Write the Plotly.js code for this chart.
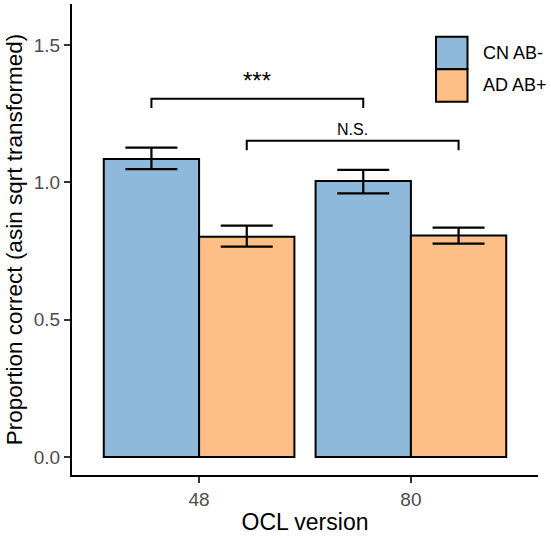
<!DOCTYPE html>
<html>
<head>
<meta charset="utf-8">
<script src="https://cdn.plot.ly/plotly-3.0.1.min.js"></script>
<style>html,body{margin:0;padding:0;background:#fff;}#chart{width:551px;height:538px;}</style>
</head>
<body>
<div id="chart"></div>
<script>
// ---- data ----
var versions = ["48", "80"];
var groups = ["CN AB-", "AD AB+"];
var colors = ["#8FB9DA", "#FDBF86"];
var cnMean = [1.085, 1.005];
var cnUpper = [1.126, 1.045];
var cnLower = [1.048, 0.960];
var adMean = [0.802, 0.806];
var adUpper = [0.842, 0.835];
var adLower = [0.766, 0.777];
var yTicks = [0, 0.5, 1.0, 1.5];
var yTickText = ["0.0", "0.5", "1.0", "1.5"];
// comparisons between the two versions within one group
var compGroup = [0, 1];
var compY = [1.304, 1.151];
var compLabel = ["***", "N.S."];

var means = [cnMean, adMean];
var uppers = [cnUpper, adUpper];
var lowers = [cnLower, adLower];

var FONT = "Liberation Sans, Arial, sans-serif";
var traces = groups.map(function (g, i) {
  return {
    type: "bar",
    name: g,
    x: versions,
    y: means[i],
    marker: { color: colors[i], line: { color: "#000", width: 2 } },
    error_y: {
      type: "data",
      symmetric: false,
      array: uppers[i].map(function (u, k) { return u - means[i][k]; }),
      arrayminus: means[i].map(function (m, k) { return m - lowers[i][k]; }),
      color: "#000",
      thickness: 2.2,
      width: 26
    },
    showlegend: false,
    hoverinfo: "skip"
  };
});

var shapes = [];
var annotations = [];
var groupWidth = 0.9;
var barW = groupWidth / groups.length;
function barCenter(versionIdx, groupIdx) {
  return versionIdx + (groupIdx - (groups.length - 1) / 2) * barW;
}
var tip = 0.034;
compGroup.forEach(function (gi, c) {
  var x0 = barCenter(0, gi), x1 = barCenter(1, gi), y = compY[c];
  shapes.push({
    type: "path", xref: "x", yref: "y",
    path: "M" + x0 + "," + (y - tip) + " L" + x0 + "," + y + " L" + x1 + "," + y + " L" + x1 + "," + (y - tip),
    line: { color: "#000", width: 2 }
  });
  annotations.push({
    xref: "x", yref: "y", x: (x0 + x1) / 2, y: y,
    yanchor: "bottom", yshift: c === 0 ? 3 : 1,
    text: compLabel[c], showarrow: false,
    font: { family: FONT, size: c === 0 ? 24 : 16, color: "#000" }
  });
});

// custom legend (large keys as in the reference)
var legX0 = 436, legW = 31.5, legY0 = 36.7, legH = 32.5;
var W = 551, H = 538, mL = 72, mR = 13, mT = 4, mB = 63;
function px2paperX(px) { return (px - mL) / (W - mL - mR); }
function px2paperY(py) { return 1 - (py - mT) / (H - mT - mB); }
groups.forEach(function (g, i) {
  var top = legY0 + i * legH;
  shapes.push({
    type: "rect", xref: "paper", yref: "paper",
    x0: px2paperX(legX0), x1: px2paperX(legX0 + legW),
    y0: px2paperY(top + legH), y1: px2paperY(top),
    fillcolor: colors[i], line: { color: "#000", width: 2 }
  });
  annotations.push({
    xref: "paper", yref: "paper",
    x: px2paperX(481), y: px2paperY(top + legH / 2),
    xanchor: "left", yanchor: "middle",
    text: g, showarrow: false,
    font: { family: FONT, size: 18, color: "#000" }
  });
});

var layout = {
  width: W, height: H,
  margin: { l: mL, r: mR, t: mT, b: mB },
  paper_bgcolor: "#fff", plot_bgcolor: "#fff",
  font: { family: FONT },
  barmode: "group", bargap: 0.1, bargroupgap: 0,
  showlegend: false,
  xaxis: {
    type: "category",
    range: [-0.6, 1.6],
    showline: true, linecolor: "#000", linewidth: 2,
    ticks: "outside", ticklen: 6, tickwidth: 2, tickcolor: "#333",
    tickfont: { family: FONT, size: 19, color: "#4D4D4D" },
    showgrid: false, zeroline: false,
    title: { text: "OCL version", font: { family: FONT, size: 23, color: "#000" }, standoff: 5 }
  },
  yaxis: {
    range: [-0.0655, 1.649],
    tickvals: yTicks, ticktext: yTickText,
    showline: true, linecolor: "#000", linewidth: 2,
    ticks: "outside", ticklen: 6, tickwidth: 2, tickcolor: "#333",
    tickfont: { family: FONT, size: 19, color: "#4D4D4D" },
    showgrid: false, zeroline: false,
    title: { text: "Proportion correct (asin sqrt transformed)", font: { family: FONT, size: 22.5, color: "#000" }, standoff: 5 }
  },
  shapes: shapes,
  annotations: annotations
};

Plotly.newPlot("chart", traces, layout, { displayModeBar: false, staticPlot: true });
</script>
</body>
</html>
